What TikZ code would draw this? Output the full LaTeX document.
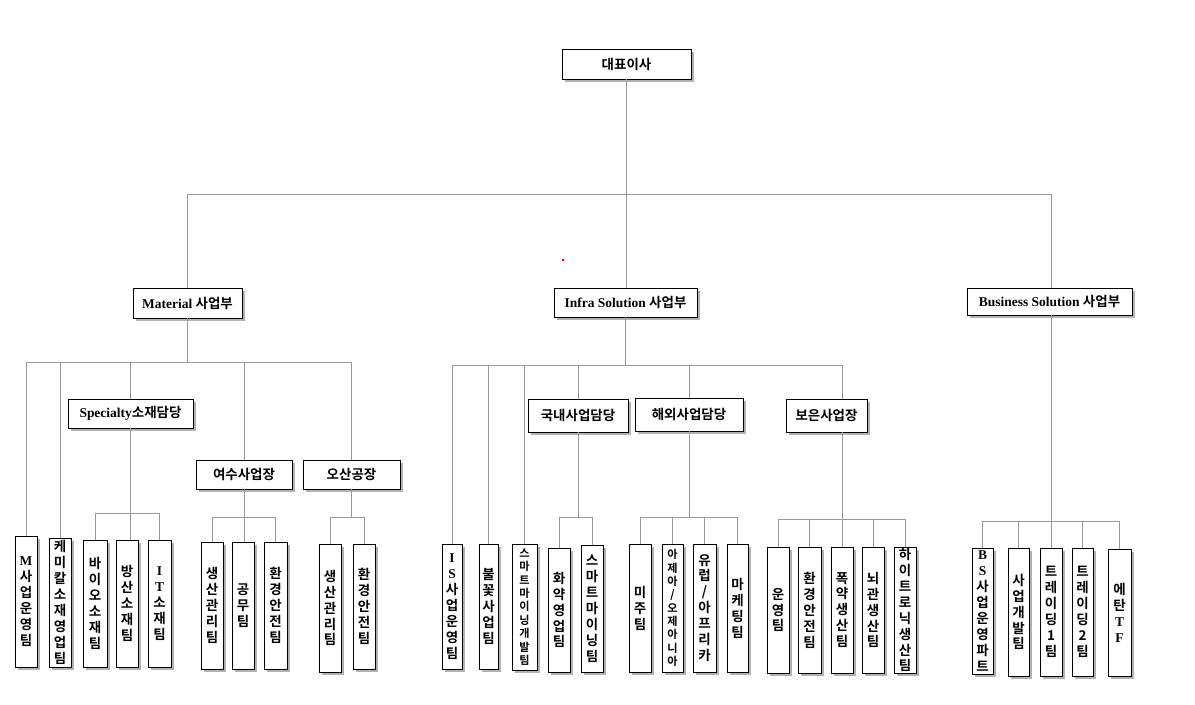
\documentclass[tikz,border=0pt]{standalone}
\usepackage{fontspec}
\setmainfont{Liberation Serif}
\newfontfamily\kr{Noto Sans CJK KR}[BoldFont={Noto Sans CJK KR Bold}]
\usepackage{tikz}
\usetikzlibrary{shapes,shadows,calc,positioning}

\newcommand{\hg}[1]{{\kr\bfseries #1}}
\newcommand{\ltr}[1]{{\rmfamily\bfseries #1}}

\tikzset{
  box/.style={draw, line width=0.8pt, fill=white, inner sep=1pt, outer sep=0pt,
    minimum height=0.87cm, font=\bfseries\fontsize{11.5}{13}\selectfont,
    drop shadow={shadow xshift=0.08cm, shadow yshift=-0.08cm, fill=gray!60, opacity=1}},
  col/.style={box, minimum width=0.66cm, minimum height=3.81cm, align=center,
    font=\kr\bfseries\fontsize{11.5}{13.6}\selectfont},
  tight/.style={font=\kr\bfseries\fontsize{9.5}{11.4}\selectfont},
  link/.style={draw=gray!80, line width=0.8pt}
}

\begin{document}
\begin{tikzpicture}


\coordinate(O1) at (0,0);
\useasboundingbox (O1) rectangle (35.85,-21.12);

\node[box, minimum width=3.87cm, minimum height=0.9cm, below right=1.47cm and 16.86cm of O1](ceo) {\hg{대표이사}};

\node[box, minimum width=3.27cm, minimum height=0.9cm, below right=8.64cm and 3.99cm of O1](mat) {Material \hg{사업부}};
\node[box, minimum width=4.29cm, below right=8.64cm and 16.62cm of O1](inf) {Infra Solution \hg{사업부}};
\node[box, minimum width=4.95cm, minimum height=0.81cm, below right=8.64cm and 29.01cm of O1](bus) {Business Solution \hg{사업부}};

\node[box, minimum width=3.75cm, below right=11.97cm and 2.04cm of O1](spec) {Specialty\hg{소재담당}};
\node[box, minimum width=2.88cm, below right=13.8cm and 5.88cm of O1](yeosu) {\hg{여수사업장}};
\node[box, minimum width=2.91cm, below right=13.8cm and 9.09cm of O1](osan) {\hg{오산공장}};

\node[box, minimum width=3cm, minimum height=0.99cm, below right=11.97cm and 15.84cm of O1](dom) {\hg{국내사업담당}};
\node[box, minimum width=3.24cm, minimum height=0.99cm, below right=11.94cm and 19.05cm of O1](ovs) {\hg{해외사업담당}};
\node[box, minimum width=2.43cm, minimum height=0.99cm, below right=11.97cm and 23.58cm of O1](boeun) {\hg{보은사업장}};

\node[col, minimum height=3.93cm, below right=16.08cm and 0.45cm of O1](m1) {\ltr{M}\\사\\업\\운\\영\\팀};
\node[col, minimum height=3.87cm, below right=16.14cm and 1.47cm of O1](m2) {케\\미\\칼\\소\\재\\영\\업\\팀};
\node[col, minimum width=0.72cm, below right=16.2cm and 2.49cm of O1](s1) {바\\이\\오\\소\\재\\팀};
\node[col, below right=16.2cm and 3.48cm of O1](s2) {방\\산\\소\\재\\팀};
\node[col, minimum width=0.69cm, below right=16.2cm and 4.44cm of O1](s3) {\ltr{I}\\\ltr{T}\\소\\재\\팀};

\node[col, below right=16.26cm and 6.03cm of O1](y1) {생\\산\\관\\리\\팀};
\node[col, below right=16.26cm and 6.96cm of O1](y2) {공\\무\\팀};
\node[col, minimum width=0.69cm, below right=16.26cm and 7.92cm of O1](y3) {환\\경\\안\\전\\팀};
\node[col, minimum height=3.84cm, below right=16.32cm and 9.57cm of O1](o1) {생\\산\\관\\리\\팀};
\node[col, minimum height=3.75cm, below right=16.32cm and 10.59cm of O1](o2) {환\\경\\안\\전\\팀};

\node[col, minimum width=0.6cm, minimum height=3.75cm, below right=16.32cm and 13.26cm of O1](i1) {\ltr{I}\\\ltr{S}\\사\\업\\운\\영\\팀};
\node[col, minimum width=0.57cm, minimum height=3.75cm, below right=16.32cm and 14.37cm of O1](i2) {불\\꽃\\사\\업\\팀};
\node[col, tight, minimum width=0.75cm, minimum height=3.78cm, below right=16.32cm and 15.36cm of O1](i3) {스\\마\\트\\마\\이\\닝\\개\\발\\팀};
\node[col, minimum height=3.72cm, below right=16.44cm and 16.44cm of O1](d1) {화\\약\\영\\업\\팀};
\node[col, below right=16.35cm and 17.43cm of O1](d2) {스\\마\\트\\마\\이\\닝\\팀};

\node[col, minimum height=3.84cm, below right=16.32cm and 18.87cm of O1](v1) {미\\주\\팀};
\node[col, tight, minimum width=0.63cm, minimum height=3.84cm, below right=16.32cm and 19.86cm of O1](v2) {아\\제\\아\\/\\오\\제\\아\\니\\아};
\node[col, minimum width=0.69cm, minimum height=3.84cm, below right=16.32cm and 20.79cm of O1](v3) {유\\럽\\/\\아\\프\\리\\카};
\node[col, minimum width=0.63cm, minimum height=3.84cm, below right=16.32cm and 21.81cm of O1](v4) {마\\케\\팅\\팀};

\node[col, minimum height=3.78cm, below right=16.41cm and 23.01cm of O1](b1) {운\\영\\팀};
\node[col, minimum width=0.69cm, minimum height=3.78cm, below right=16.41cm and 23.94cm of O1](b2) {환\\경\\안\\전\\팀};
\node[col, minimum height=3.78cm, below right=16.41cm and 24.93cm of O1](b3) {폭\\약\\생\\산\\팀};
\node[col, minimum height=3.78cm, below right=16.41cm and 25.86cm of O1](b4) {뇌\\관\\생\\산\\팀};
\node[col, minimum height=3.78cm, below right=16.41cm and 26.82cm of O1](b5) {하\\이\\트\\로\\닉\\생\\산\\팀};

\node[col, minimum width=0.63cm, minimum height=3.78cm, below right=16.44cm and 29.16cm of O1](u1) {\ltr{B}\\\ltr{S}\\사\\업\\운\\영\\파\\트};
\node[col, minimum width=0.63cm, minimum height=3.84cm, below right=16.44cm and 30.24cm of O1](u2) {사\\업\\개\\발\\팀};
\node[col, minimum height=3.84cm, below right=16.44cm and 31.2cm of O1](u3) {트\\레\\이\\딩\\1\\팀};
\node[col, minimum width=0.63cm, minimum height=3.84cm, below right=16.44cm and 32.16cm of O1](u4) {트\\레\\이\\딩\\2\\팀};
\node[col, minimum width=0.69cm, below right=16.47cm and 33.24cm of O1](u5) {에\\탄\\\ltr{T}\\\ltr{F}};

\coordinate[below=5.82cm of O1](topbus);
\coordinate[below=10.86cm of O1](matbus);
\coordinate[below=10.95cm of O1](infbus);
\coordinate[below=15.39cm of O1](specbus);
\coordinate[below=15.51cm of O1](subbus);
\coordinate[below=15.57cm of O1](boeunbus);
\coordinate[below=15.63cm of O1](bsbus);

\draw[link] (ceo.south) -- (ceo.south |- inf.north);
\draw[link] (mat.north) -- (mat.north |- topbus) -- (u3.north |- topbus) -- (u3.north |- bus.north);
\draw[link] (u3.north |- bus.south) -- (u3.north);

\draw[link] (mat.south) -- (mat.south |- matbus);
\draw[link] (m1.north) -- (m1.north |- matbus) -- (osan.north |- matbus) -- (osan.north);
\foreach \n in {m2,spec,yeosu} \draw[link] (\n.north) -- (\n.north |- matbus);

\draw[link] (spec.south) -- (spec.south |- s2.north);
\draw[link] (s1.north) -- (s1.north |- specbus) -- (s3.north |- specbus) -- (s3.north);
\draw[link] (yeosu.south) -- (yeosu.south |- y2.north);
\draw[link] (y1.north) -- (y1.north |- subbus) -- (y3.north |- subbus) -- (y3.north);
\draw[link] (osan.south) -- (osan.south |- subbus);
\draw[link] (o1.north) -- (o1.north |- subbus) -- (o2.north |- subbus) -- (o2.north);

\draw[link] (inf.south) -- (inf.south |- infbus);
\draw[link] (i1.north) -- (i1.north |- infbus) -- (b3.north |- infbus) -- (b3.north |- boeun.north);
\foreach \n in {i2,i3,dom,ovs} \draw[link] (\n.north) -- (\n.north |- infbus);

\draw[link] (dom.south) -- (dom.south |- subbus);
\draw[link] (d1.north) -- (d1.north |- subbus) -- (d2.north |- subbus) -- (d2.north);
\draw[link] (ovs.south) -- (ovs.south |- subbus);
\draw[link] (v1.north) -- (v1.north |- subbus) -- (v4.north |- subbus) -- (v4.north);
\foreach \n in {v2,v3} \draw[link] (\n.north) -- (\n.north |- subbus);
\draw[link] (b3.north |- boeun.south) -- (b3.north);
\draw[link] (b1.north) -- (b1.north |- boeunbus) -- (b5.north |- boeunbus) -- (b5.north);
\foreach \n in {b2,b4} \draw[link] (\n.north) -- (\n.north |- boeunbus);

\draw[link] (u1.north) -- (u1.north |- bsbus) -- (u5.north |- bsbus) -- (u5.north);
\foreach \n in {u2,u4} \draw[link] (\n.north) -- (\n.north |- bsbus);

\fill[red] (16.89,-7.8) circle (0.045);
\end{tikzpicture}
\end{document}
